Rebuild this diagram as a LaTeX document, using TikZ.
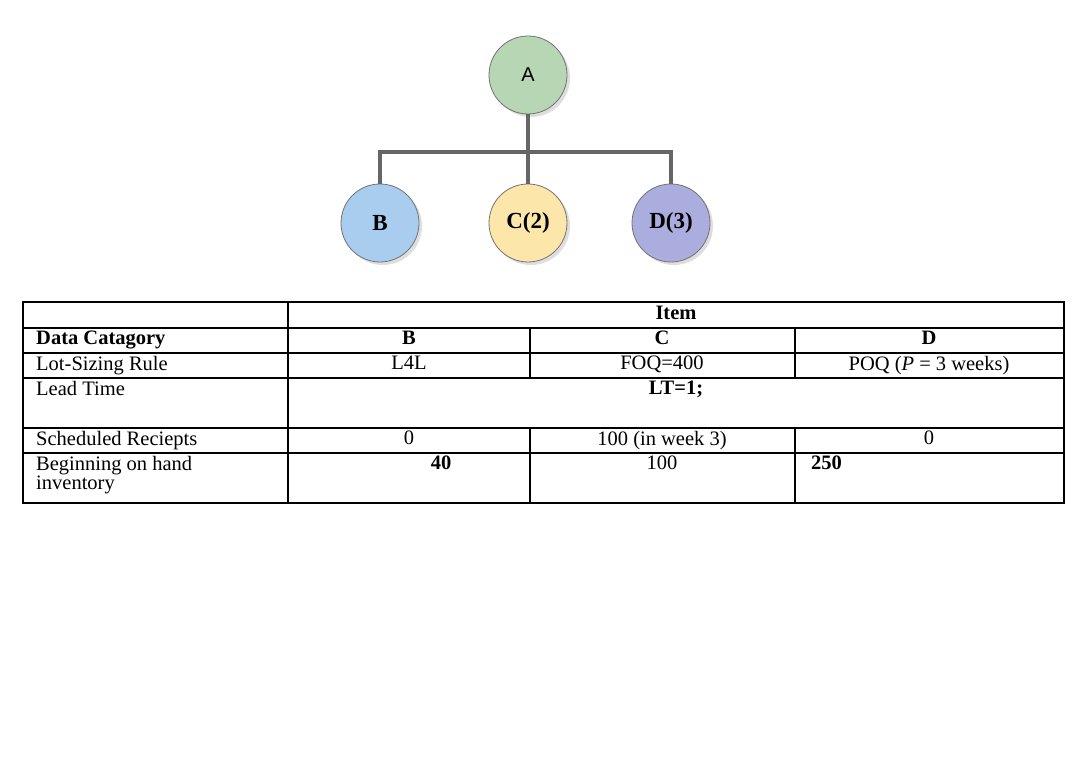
\documentclass[tikz,border=0pt]{standalone}
\usepackage{fontspec}
\setmainfont{Liberation Serif}
\setsansfont{Liberation Sans}
\usetikzlibrary{shadows}
\definecolor{cA}{HTML}{B7D6B3}
\definecolor{cB}{HTML}{A9CDEF}
\definecolor{cC}{HTML}{FDE6AA}
\definecolor{cD}{HTML}{AAADDE}
\newcommand\tfs{\fontsize{20.5}{19}\selectfont}
\tikzset{x=1pt,y=-1pt,
 circ/.style={circle,draw=black!55,line width=0.8pt,minimum size=78pt,inner sep=0pt,
   drop shadow={shadow xshift=3pt,shadow yshift=-3pt,fill=black!25,opacity=0.5}},
 tree/.style={draw=black!60,line width=4.5pt},
 grid/.style={line width=1.1pt},
 txt/.style={font=\tfs,inner sep=0pt,anchor=north},
 btxt/.style={txt,font=\bfseries\tfs}}
\begin{document}
\begin{tikzpicture}
\useasboundingbox[fill=white] (0,0) rectangle (1080,759);
\node[circ,fill=cA,font=\sffamily\fontsize{20}{20}\selectfont] (A) at (528,75) {A};
\node[circ,fill=cB,font=\bfseries\fontsize{23}{23}\selectfont] (B) at (380,223) {B};
\node[circ,fill=cC,font=\bfseries\fontsize{23}{23}\selectfont] (C) at (528,223) {C(2)};
\node[circ,fill=cD,font=\bfseries\fontsize{23}{23}\selectfont] (D) at (671,223) {D(3)};
\coordinate (j) at (528,152);
\draw[tree] (A.south) -- (j);
\draw[tree] (B.north) |- (j) -| (D.north);
\draw[tree] (j) -- (C.north);
% table
\draw[grid] (23,302) rectangle (1064,503);
\foreach \y in {328,353,378,428,453} \draw[grid] (23,\y) -- (1064,\y);
\draw[grid] (288,302) -- (288,503);
\foreach \x in {530,795} {\draw[grid] (\x,328) -- (\x,378); \draw[grid] (\x,428) -- (\x,503);}
\node[btxt] (item) at (676,306) {Item};
\node[btxt,anchor=north west] (dc) at (36,331) {Data Catagory};
\node[btxt] (hb) at (409,331) {B};
\node[btxt] (hc) at (662,331) {C};
\node[btxt] (hd) at (929,331) {D};
\node[txt,anchor=north west] (ls) at (36,356) {Lot-Sizing Rule};
\node[txt] (lb) at (409,356) {L4L};
\node[txt] (lc) at (662,356) {FOQ=400};
\node[txt] (ld) at (929,356) {POQ (\textit{P} = 3 weeks)};
\node[txt,anchor=north west] (lt) at (36,381) {Lead Time};
\node[btxt] (ltv) at (676,381) {LT=1;};
\node[txt,anchor=north west] (sr) at (36,431) {Scheduled Reciepts};
\node[txt] (sb) at (409,431) {0};
\node[txt] (sc) at (662,431) {100 (in week 3)};
\node[txt] (sd) at (929,431) {0};
\node[txt,anchor=north west,align=left] (bo) at (36,456) {Beginning on hand\\inventory};
\node[btxt] (bb) at (441,456) {40};
\node[txt] (bc) at (662,456) {100};
\node[btxt,anchor=north west] (bd) at (811,456) {250};
\end{tikzpicture}
\end{document}
